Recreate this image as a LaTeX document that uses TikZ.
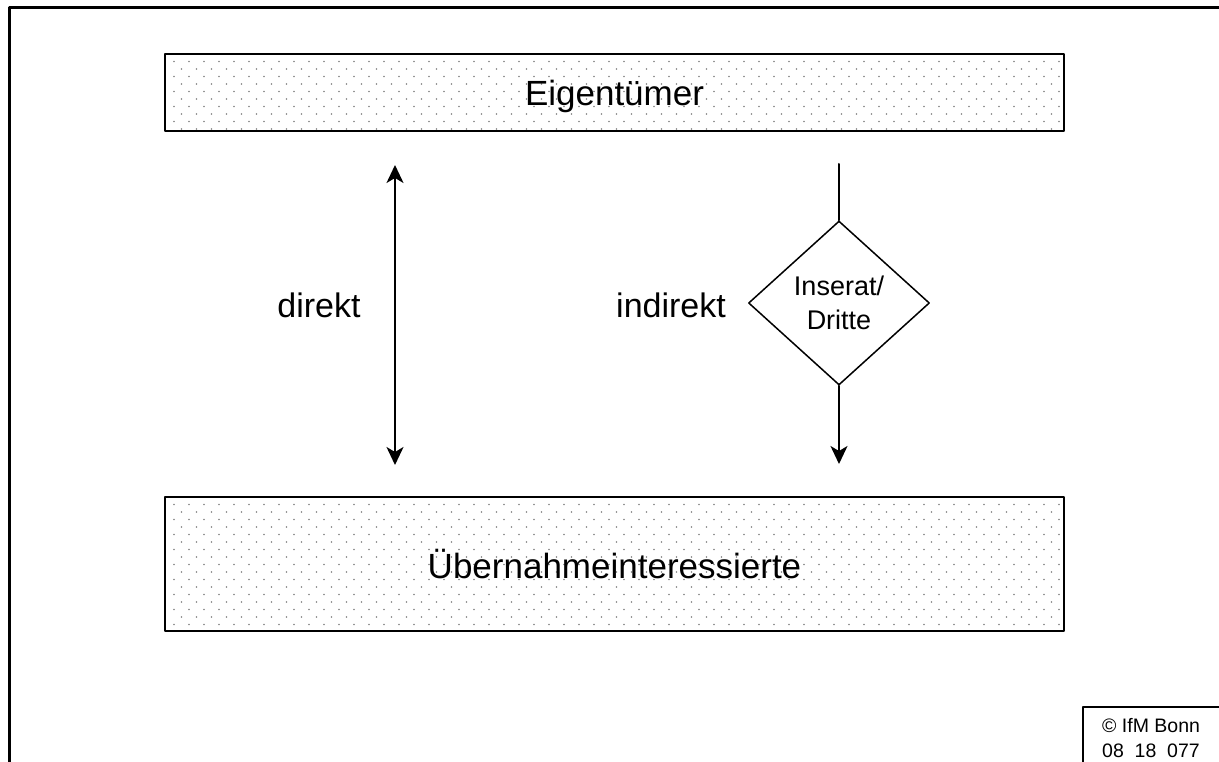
\documentclass[tikz,border=0pt]{standalone}
\usepackage{fontspec}
\setmainfont{Liberation Sans}
\usetikzlibrary{arrows.meta}
\usetikzlibrary{shapes.geometric}

\definecolor{dotgray}{gray}{0.5}

% staggered dot raster inside a box: x1 y1 x2 y2
\newcommand{\dotbox}[4]{%
  \begin{scope}
    \clip (#1,#2) rectangle (#3,#4);
    \pgfmathtruncatemacro{\nrows}{(#4-#2)/7.5}
    \pgfmathtruncatemacro{\ncols}{(#3-#1)/15}
    \foreach \j in {1,...,\nrows}{
      \pgfmathsetmacro{\xo}{mod(\j+1,2)*7.5}
      \foreach \i in {0,...,\ncols}{
        \fill[dotgray] (#1+9+\xo+15*\i,#2+7.5*\j) circle[radius=0.8pt];
      }
    }
  \end{scope}}

\tikzset{
  bar/.style={draw, line width=2pt, minimum width=899pt, text depth=0pt, font=\fontsize{35}{40}\selectfont},
  side/.style={text depth=0pt, font=\fontsize{34}{40}\selectfont},
  deal/.style={draw, diamond, line width=1.5pt, aspect=1.1, inner sep=0pt, minimum width=181pt, minimum height=164pt, align=center, font=\fontsize{27}{34}\selectfont},
  tip/.style={-{Stealth[length=18pt,width=17pt,inset=5pt]}}
}

\begin{document}
\begin{tikzpicture}[x=1pt,y=-1pt,line cap=round,line join=round]
        \useasboundingbox (0,0) rectangle (1219,762);
        % frame
        \draw[line width=3pt,line cap=butt] (9.5,762) -- (9.5,7.5) -- (1219,7.5);
        % raster boxes
        \dotbox{165}{54}{1064}{131}
        \dotbox{165}{497}{1064}{631}
        \node[bar, minimum height=77pt] (owner) at (614.5,92.5) {Eigentümer};
        \node[bar, minimum height=134pt] (buyer) at (614.5,564) {Übernahmeinteressierte};
        % direct way
        \coordinate (dtop) at (395,165);
        \coordinate (dbot) at (395,465);
        \draw[tip, line width=2pt, {Stealth[length=18pt,width=17pt,inset=5pt]}-{Stealth[length=18pt,width=17pt,inset=5pt]}] (dtop) -- (dbot);
        \node[side] (direkt) at (319,305) {direkt};
        % indirect way
        \node[deal] (third) at (839,303) {Inserat/\\Dritte};
        \coordinate (itop) at (839,164);
        \coordinate (ibot) at (839,464);
        \draw[line width=2pt] (itop) -- (third.north);
        \draw[tip, line width=2pt] (third.south) -- (ibot);
        \node[side] (indirekt) at (671,305) {indirekt};
        % stamp
        \draw[line width=1.5pt,line cap=butt] (1083,762) -- (1083,707) -- (1219,707);
        \node[anchor=west, align=left, inner sep=0pt, font=\fontsize{19.5}{25.5}\selectfont] (stamp) at (1102,738) {\copyright{} IfM Bonn\\08\ \ 18\ \ 077};
      \end{tikzpicture}
\end{document}
